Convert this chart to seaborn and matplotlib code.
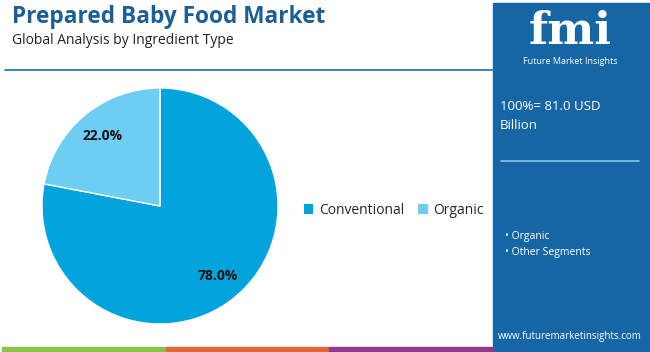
import matplotlib
matplotlib.use("Agg")
import matplotlib.pyplot as plt
import seaborn as sns
from matplotlib.patches import Rectangle, Patch

# Data
segments = ["Conventional", "Organic"]
shares = [78.0, 22.0]
seg_colors = ["#00a3db", "#6dcdf3"]
total_label = "100%= 81.0 USD\nBillion"
panel_items = ["Organic", "Other Segments"]

sns.set_theme(style="white")
plt.rcParams["font.family"] = ["Open Sans", "DejaVu Sans"]

W, H = 650, 352
fig = plt.figure(figsize=(W / 100, H / 100), dpi=100)
fig.patch.set_facecolor("white")


def fx(x):
    return x / W


def fy(y):
    return 1 - y / H


# Title block
fig.text(fx(12), fy(17), "Prepared Baby Food Market", fontsize=16.3, fontweight="bold",
         color="#1b5f96", va="center", ha="left")
fig.text(fx(12), fy(40), "Global Analysis by Ingredient Type", fontsize=10,
         color="#222222", va="center", ha="left")
fig.add_artist(plt.Line2D([fx(5), fx(493)], [fy(69.5), fy(69.5)], color="#2f78b5", lw=1.3))

# Right panel
panel_blue = "#1666a6"
fig.add_artist(Rectangle((fx(493), 0), fx(157), fy(3), transform=fig.transFigure,
                         color=panel_blue, zorder=0))
fig.text(fx(570), fy(31), "fmi", fontsize=32, fontweight="bold", family=["DejaVu Serif"],
         color="white", ha="center", va="center")
fig.text(fx(570), fy(61), "Future Market Insights", fontsize=6.5, color="white",
         ha="center", va="center")
fig.text(fx(500), fy(116), total_label, fontsize=9.5, color="white", ha="left", va="center",
         linespacing=1.6)
fig.add_artist(plt.Line2D([fx(501), fx(639)], [fy(161.5), fy(161.5)], color="#8cc3ea", lw=1.2))
for i, item in enumerate(panel_items):
    fig.text(fx(505), fy(236 + 16 * i), "\u2022 " + item, fontsize=7.5, color="white",
             ha="left", va="center")
fig.text(fx(570), fy(337), "www.futuremarketinsights.com", fontsize=7, color="white",
         ha="center", va="center")

# Bottom colour strip
strip = [(2, 166, "#8bc34a"), (166, 329, "#e2673a"), (329, 493, "#8e3b8f")]
for x0, x1, c in strip:
    fig.add_artist(Rectangle((fx(x0), 0), fx(x1 - x0), fy(347), transform=fig.transFigure,
                             color=c, zorder=1))

# Pie
cx, cy, r = 160, 206, 118
ax = fig.add_axes([fx(cx - r), fy(cy + r), fx(2 * r), (2 * r) / H])
wedges, texts, autotexts = ax.pie(shares, colors=seg_colors, startangle=90, counterclock=False,
                                  autopct="%1.1f%%", pctdistance=0.77,
                                  textprops=dict(fontsize=10, fontweight="bold", color="#111111"))
ax.set_xlim(-1, 1)
ax.set_ylim(-1, 1)
ax.set_aspect("equal")
ax.axis("off")

handles = [Patch(facecolor=c, edgecolor="none") for c in seg_colors]
fig.legend(handles, segments, loc="center left", bbox_to_anchor=(fx(298), fy(210)),
           ncol=2, frameon=False, fontsize=10, handlelength=0.7, handleheight=0.7,
           handletextpad=0.4, columnspacing=1.0, borderaxespad=0)

fig.savefig("out.png", dpi=100)
plt.close(fig)
